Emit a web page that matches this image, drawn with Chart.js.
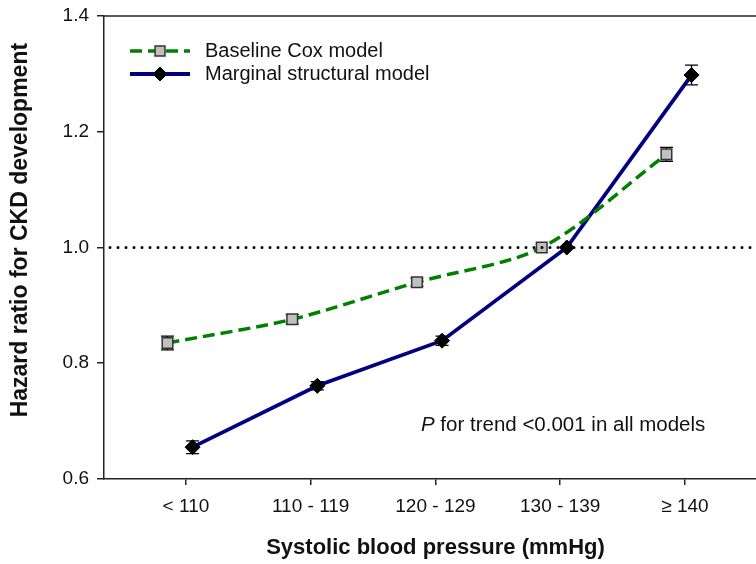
<!DOCTYPE html>
<html>
<head>
<meta charset="utf-8">
<script src="https://cdn.jsdelivr.net/npm/chart.js@4.4.0/dist/chart.umd.min.js"></script>
<style>
  html, body { margin: 0; padding: 0; background: #fff; overflow: hidden; width: 756px; height: 564px; }
  canvas { display: block; }
</style>
</head>
<body>
<canvas id="chart" width="767" height="564"></canvas>
<script>
// Systolic blood pressure groups
const categories = ['< 110', '110 - 119', '120 - 129', '130 - 139', '\u2265 140'];

// Hazard ratios (reference group 130 - 139)
const coxHR  = [0.835, 0.876, 0.940, 1.000, 1.161];
const coxErr = [0.012, 0.008, 0.007, 0.000, 0.012];
const msmHR  = [0.655, 0.761, 0.839, 1.000, 1.298];
const msmErr = [0.011, 0.007, 0.008, 0.000, 0.017];

const yTicks = [0.6, 0.8, 1.0, 1.2, 1.4];
const referenceHR = 1.0;
const seriesNames = ['Baseline Cox model', 'Marginal structural model'];
const xTitle = 'Systolic blood pressure (mmHg)';
const yTitle = 'Hazard ratio for CKD development';
const trendNote = ['P', ' for trend <0.001 in all models'];

// horizontal nudge so the two series don't overlap at each group
const COX_SHIFT = -0.148;
const MSM_SHIFT = 0.053;

const FONT = '"Liberation Sans", Arial, sans-serif';
const INK = '#111111';

function points(values, shift) {
  return values.map((v, i) => ({ x: i + 1 + shift, y: v }));
}

const decorations = {
  id: 'decorations',
  beforeDatasetsDraw(chart) {
    // error bars sit behind the markers
    const { ctx, scales: { x, y } } = chart;
    const errs = [coxErr, msmErr];
    ctx.save();
    ctx.strokeStyle = '#000';
    ctx.lineWidth = 1.3;
    chart.data.datasets.forEach((ds, di) => {
      ds.data.forEach((p, i) => {
        const e = errs[di][i];
        if (!e) return;
        const px = x.getPixelForValue(p.x);
        const lo = y.getPixelForValue(p.y - e);
        const hi = y.getPixelForValue(p.y + e);
        ctx.beginPath();
        ctx.moveTo(px, lo); ctx.lineTo(px, hi);
        ctx.moveTo(px - 6.5, lo); ctx.lineTo(px + 6.5, lo);
        ctx.moveTo(px - 6.5, hi); ctx.lineTo(px + 6.5, hi);
        ctx.stroke();
      });
    });
    ctx.restore();
  },
  afterDatasetsDraw(chart) {
    // dotted reference line at HR = 1
    const { ctx, chartArea: a, scales: { y } } = chart;
    const py = y.getPixelForValue(referenceHR);
    ctx.save();
    ctx.strokeStyle = '#000';
    ctx.lineWidth = 3;
    ctx.lineCap = 'round';
    ctx.setLineDash([0, 8]);
    ctx.beginPath();
    ctx.moveTo(a.left + 6, py);
    ctx.lineTo(a.right, py);
    ctx.stroke();
    ctx.restore();
  },
  afterDraw(chart) {
    const { ctx, chartArea: a, scales: { x, y } } = chart;
    ctx.save();
    // top frame line
    ctx.strokeStyle = '#222';
    ctx.lineWidth = 1.5;
    ctx.beginPath();
    ctx.moveTo(a.left, a.top);
    ctx.lineTo(a.right, a.top);
    ctx.stroke();

    // legend
    chart.data.datasets.forEach((ds, i) => {
      const ly = a.top + 35 + i * 23;
      const x0 = a.left + 26, x1 = a.left + 86;
      ctx.save();
      ctx.strokeStyle = ds.borderColor;
      ctx.lineWidth = ds.borderWidth;
      ctx.setLineDash(ds.borderDash || []);
      ctx.beginPath();
      ctx.moveTo(x0, ly); ctx.lineTo(x1, ly);
      ctx.stroke();
      ctx.restore();
      ctx.fillStyle = ds.pointBackgroundColor;
      ctx.strokeStyle = ds.pointBorderColor;
      ctx.lineWidth = ds.pointBorderWidth;
      Chart.helpers.drawPoint(ctx, {
        pointStyle: ds.pointStyle,
        radius: 7,
        borderWidth: ds.pointBorderWidth
      }, (x0 + x1) / 2, ly);
      ctx.fillStyle = INK;
      ctx.font = '20px ' + FONT;
      ctx.textBaseline = 'middle';
      ctx.textAlign = 'left';
      ctx.fillText(ds.label, a.left + 101, ly);
    });

    // trend note
    ctx.fillStyle = INK;
    ctx.textBaseline = 'middle';
    ctx.textAlign = 'left';
    const nx = x.getPixelForValue(2.884);
    const ny = y.getPixelForValue(0.693);
    ctx.font = 'italic 20.5px ' + FONT;
    ctx.fillText(trendNote[0], nx, ny);
    const w = ctx.measureText(trendNote[0]).width;
    ctx.font = '20.5px ' + FONT;
    ctx.fillText(trendNote[1], nx + w, ny);

    // vertical axis title
    ctx.save();
    ctx.translate(21, y.getPixelForValue(1.03));
    ctx.rotate(-Math.PI / 2);
    ctx.font = 'bold 23px ' + FONT;
    ctx.textAlign = 'center';
    ctx.textBaseline = 'middle';
    ctx.fillStyle = INK;
    ctx.fillText(yTitle, 0, 0);
    ctx.restore();
    ctx.restore();
  }
};

new Chart(document.getElementById('chart'), {
  type: 'line',
  data: {
    datasets: [
      {
        label: seriesNames[0],
        data: points(coxHR, COX_SHIFT),
        borderColor: '#008000',
        borderWidth: 3.5,
        borderDash: [12, 6],
        tension: 0.3,
        pointStyle: 'rect',
        pointRadius: 7.5,
        pointBackgroundColor: '#c0c0c0',
        pointBorderColor: '#333333',
        pointBorderWidth: 1.5
      },
      {
        label: seriesNames[1],
        data: points(msmHR, MSM_SHIFT),
        borderColor: '#000080',
        borderWidth: 3.8,
        tension: 0,
        pointStyle: 'rectRot',
        pointRadius: 7.5,
        pointBackgroundColor: '#000000',
        pointBorderColor: '#000000',
        pointBorderWidth: 1
      }
    ]
  },
  options: {
    responsive: false,
    animation: false,
    layout: { autoPadding: false, padding: { top: 16, right: 0, left: 0, bottom: 0 } },
    plugins: { legend: { display: false }, tooltip: { enabled: false } },
    scales: {
      x: {
        type: 'linear',
        min: 0.343,
        max: 5.658,
        afterBuildTicks(scale) {
          scale.ticks = categories.map((c, i) => ({ value: i + 1 }));
        },
        afterFit(scale) {
          scale.height = 85;
          scale.paddingLeft = 0;
          scale.paddingRight = 0;
        },
        ticks: {
          callback: (v) => categories[Math.round(v) - 1],
          color: INK,
          font: { family: FONT, size: 19 },
          padding: 10,
          maxRotation: 0,
          autoSkip: false
        },
        grid: { drawOnChartArea: false, drawTicks: true, tickLength: 6, color: '#222', lineWidth: 1.5 },
        border: { display: true, color: '#222', width: 1.5 },
        title: {
          display: true,
          text: xTitle,
          color: INK,
          font: { family: FONT, size: 22, weight: 'bold' },
          padding: { top: 0, bottom: 3 }
        }
      },
      y: {
        min: 0.6,
        max: 1.4,
        afterBuildTicks(scale) {
          scale.ticks = yTicks.map(v => ({ value: v }));
        },
        afterFit(scale) {
          scale.width = 104;
          scale.paddingTop = 0;
          scale.paddingBottom = 0;
        },
        ticks: {
          callback: (v) => v.toFixed(1),
          color: INK,
          font: { family: FONT, size: 19 },
          padding: 8
        },
        grid: { drawOnChartArea: false, drawTicks: true, tickLength: 7, color: '#222', lineWidth: 1.5 },
        border: { display: true, color: '#222', width: 1.5 }
      }
    }
  },
  plugins: [decorations]
});
</script>
</body>
</html>
